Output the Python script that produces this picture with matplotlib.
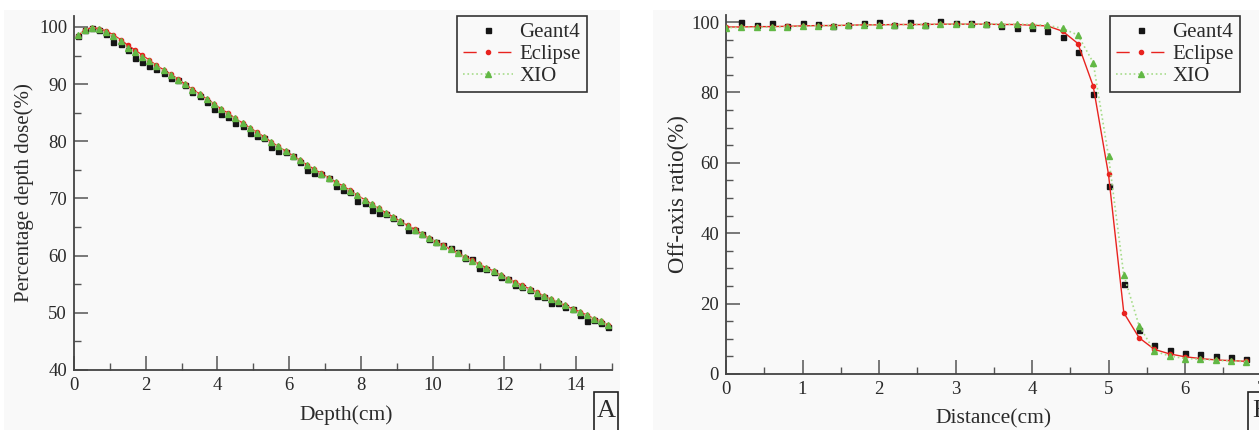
import matplotlib
matplotlib.use("Agg")
import matplotlib.pyplot as plt
from matplotlib.lines import Line2D
from matplotlib.patches import Rectangle
from matplotlib.ticker import MultipleLocator

plt.rcParams['font.family'] = ['Liberation Serif', 'DejaVu Serif']

# ---------------- Data: panel A (percentage depth dose) ----------------
depth = [0.1, 0.3, 0.5, 0.7, 0.9, 1.1, 1.3, 1.5, 1.7, 1.9,
         2.1, 2.3, 2.5, 2.7, 2.9, 3.1, 3.3, 3.5, 3.7, 3.9,
         4.1, 4.3, 4.5, 4.7, 4.9, 5.1, 5.3, 5.5, 5.7, 5.9,
         6.1, 6.3, 6.5, 6.7, 6.9, 7.1, 7.3, 7.5, 7.7, 7.9,
         8.1, 8.3, 8.5, 8.7, 8.9, 9.1, 9.3, 9.5, 9.7, 9.9,
         10.1, 10.3, 10.5, 10.7, 10.9, 11.1, 11.3, 11.5, 11.7, 11.9,
         12.1, 12.3, 12.5, 12.7, 12.9, 13.1, 13.3, 13.5, 13.7, 13.9,
         14.1, 14.3, 14.5, 14.7, 14.9]

pdd_geant4 = [98.4, 99.5, 99.9, 99.4, 98.7, 97.4, 97.0, 96.0, 94.6, 93.9,
              93.2, 92.7, 92.0, 91.0, 90.7, 89.8, 88.6, 88.0, 86.9, 85.7,
              84.8, 84.3, 83.2, 82.7, 81.5, 81.0, 80.6, 79.0, 78.3, 78.2,
              77.4, 76.3, 75.0, 74.5, 74.3, 73.5, 72.2, 71.4, 71.2, 69.6,
              69.2, 68.0, 67.5, 67.3, 66.6, 65.8, 64.5, 64.4, 63.7, 62.9,
              62.4, 61.9, 61.4, 60.7, 59.6, 59.4, 57.8, 57.7, 57.1, 56.3,
              56.0, 54.9, 54.5, 54.0, 53.0, 52.7, 51.7, 51.8, 51.0, 50.7,
              49.6, 48.5, 48.7, 48.2, 47.6]

pdd_eclipse = [98.4, 99.5, 99.9, 99.7, 99.3, 98.6, 97.8, 96.8, 96.0, 95.1,
               94.2, 93.3, 92.5, 91.7, 90.9, 90.0, 89.1, 88.3, 87.4, 86.6,
               85.7, 84.9, 84.0, 83.2, 82.4, 81.6, 80.8, 79.9, 79.1, 78.3,
               77.5, 76.7, 75.9, 75.1, 74.4, 73.6, 72.9, 72.2, 71.4, 70.6,
               69.8, 69.0, 68.3, 67.5, 66.8, 66.0, 65.3, 64.6, 63.8, 63.1,
               62.4, 61.8, 61.1, 60.5, 59.8, 59.2, 58.5, 57.9, 57.3, 56.6,
               56.0, 55.4, 54.8, 54.2, 53.6, 53.0, 52.4, 51.9, 51.3, 50.7,
               50.2, 49.6, 49.0, 48.5, 47.9]

pdd_xio = [98.6, 99.5, 99.9, 99.7, 99.2, 98.4, 97.6, 96.3, 95.7, 94.8,
           94.0, 93.2, 92.4, 91.6, 90.8, 90.0, 89.0, 88.2, 87.4, 86.5,
           85.7, 84.8, 84.0, 83.2, 82.3, 81.5, 80.7, 79.9, 79.1, 78.3,
           77.4, 76.7, 75.9, 75.1, 74.3, 73.6, 72.9, 72.2, 71.3, 70.6,
           69.7, 69.0, 68.3, 67.5, 66.8, 66.0, 65.2, 64.5, 63.8, 63.1,
           62.4, 61.7, 61.1, 60.5, 59.8, 59.1, 58.5, 57.8, 57.3, 56.6,
           56.0, 55.3, 54.7, 54.2, 53.5, 53.0, 52.4, 52.0, 51.3, 50.7,
           50.1, 49.6, 49.0, 48.5, 47.9]

# ---------------- Data: panel B (off-axis ratio) ----------------
dist = [0.0, 0.2, 0.4, 0.6, 0.8, 1.0, 1.2, 1.4, 1.6, 1.8,
        2.0, 2.2, 2.4, 2.6, 2.8, 3.0, 3.2, 3.4, 3.6, 3.8,
        4.0, 4.2, 4.4, 4.6, 4.8, 5.0, 5.2, 5.4, 5.6, 5.8,
        6.0, 6.2, 6.4, 6.6, 6.8]

dist_geant4 = [0.2, 0.4, 0.6, 0.8, 1.0, 1.2, 1.4, 1.6, 1.8,
               2.0, 2.2, 2.4, 2.6, 2.8, 3.0, 3.2, 3.4, 3.6, 3.8,
               4.0, 4.2, 4.4, 4.6, 4.8, 5.0, 5.2, 5.4, 5.6, 5.8,
               6.0, 6.2, 6.4, 6.6, 6.8]
oar_geant4 = [100.0, 99.2, 99.8, 99.0, 99.6, 99.4, 98.9, 99.2, 99.6,
              100.0, 99.2, 99.9, 99.2, 100.2, 99.6, 99.6, 99.5, 98.9, 98.4,
              98.4, 97.4, 95.8, 91.4, 79.5, 53.5, 25.5, 12.5, 8.2, 6.8,
              6.1, 5.6, 5.2, 4.9, 4.4]

oar_eclipse = [98.6, 98.6, 98.7, 98.7, 98.8, 98.9, 99.0, 99.0, 99.1, 99.2,
               99.2, 99.3, 99.3, 99.3, 99.4, 99.4, 99.4, 99.4, 99.3, 99.3,
               99.1, 98.9, 97.4, 93.9, 81.8, 56.7, 17.4, 10.3, 7.0, 5.7,
               4.9, 4.4, 4.0, 3.8, 3.6]

oar_xio = [98.4, 98.5, 98.5, 98.6, 98.7, 98.8, 98.9, 99.0, 99.1, 99.1,
           99.2, 99.2, 99.3, 99.3, 99.4, 99.4, 99.4, 99.4, 99.4, 99.4,
           99.3, 99.1, 98.2, 96.3, 88.5, 61.9, 28.1, 13.7, 6.5, 5.1,
           4.4, 4.2, 3.9, 3.7, 3.5]

series_labels = ["Geant4", "Eclipse", "XIO"]

# ---------------- Figure ----------------
W, H = 1259, 430
fig = plt.figure(figsize=(W / 100, H / 100), dpi=100, facecolor='white')


def fx(px):
    return px / W


def fy(py):
    return 1 - py / H


# light gray panel backgrounds
fig.patches.append(Rectangle((fx(4), 0), fx(620) - fx(4), fy(10), transform=fig.transFigure,
                             facecolor='#f9f9f9', edgecolor='none', zorder=-10))
fig.patches.append(Rectangle((fx(653), 0), 1 - fx(653), fy(10), transform=fig.transFigure,
                             facecolor='#f9f9f9', edgecolor='none', zorder=-10))

BLACK = '#151515'
RED = '#e8231f'
GREEN = '#62b845'
GREEN_LINE = '#a6dc8a'
SPINE = '#444444'
TXT = '#2a2a2a'

axA = fig.add_axes([fx(74), fy(370), fx(612) - fx(74), fy(15.5) - fy(370)])
axB = fig.add_axes([fx(726), fy(374), fx(726 + 76.5 * 7.5) - fx(726), fy(15) - fy(374)])


def style(ax):
    ax.set_facecolor('none')
    for s in ['top', 'right']:
        ax.spines[s].set_visible(False)
    for s in ['left', 'bottom']:
        ax.spines[s].set_color(SPINE)
        ax.spines[s].set_linewidth(1.3)
    ax.tick_params(which='major', direction='in', length=10, width=1.1, color='#555555',
                   labelsize=13.5, labelcolor=TXT, pad=5)
    ax.tick_params(which='minor', direction='in', length=5, width=1.0, color='#555555')


# Panel A
axA.plot(depth, pdd_eclipse, color=RED, lw=0.9, marker='o', ms=3, mec=RED, mfc=RED, zorder=3)
axA.plot(depth, pdd_xio, color=GREEN_LINE, lw=1.0, ls=':', marker='^', ms=4.5, mec=GREEN, mfc=GREEN, zorder=4)
axA.plot(depth, pdd_geant4, ls='none', marker='s', ms=3.6, color=BLACK, zorder=2)
axA.set_xlim(0, 15)
axA.set_ylim(40, 102)
axA.xaxis.set_major_locator(MultipleLocator(2))
axA.xaxis.set_minor_locator(MultipleLocator(1))
axA.yaxis.set_major_locator(MultipleLocator(10))
axA.yaxis.set_minor_locator(MultipleLocator(5))
style(axA)
axA.set_yticks([40, 50, 60, 70, 80, 90, 100])
axA.set_xlabel("Depth(cm)", fontsize=15.5, color=TXT, va='center')
axA.set_ylabel("Percentage depth dose(%)", fontsize=15, color=TXT)
axA.xaxis.set_label_coords((346 - 74) / (612 - 74), (370 - 415) / 354.5)
axA.yaxis.set_label_coords(-0.074, 0.5)

# Panel B
axB.plot(dist, oar_eclipse, color=RED, lw=1.0, marker='o', ms=3, mec=RED, mfc=RED, zorder=3)
axB.plot(dist, oar_xio, color=GREEN_LINE, lw=1.2, ls=':', marker='^', ms=4.5, mec=GREEN, mfc=GREEN, zorder=4)
axB.plot(dist_geant4, oar_geant4, ls='none', marker='s', ms=3.6, color=BLACK, zorder=2)
axB.set_xlim(0, 7.5)
axB.set_ylim(0, 102)
axB.xaxis.set_major_locator(MultipleLocator(1))
axB.xaxis.set_minor_locator(MultipleLocator(0.5))
axB.yaxis.set_major_locator(MultipleLocator(20))
axB.yaxis.set_minor_locator(MultipleLocator(5))
style(axB)
axB.set_xlabel("Distance(cm)", fontsize=15.5, color=TXT, va='center')
axB.set_ylabel("Off-axis ratio(%)", fontsize=16.5, color=TXT)
axB.xaxis.set_label_coords((994 - 726) / (76.5 * 7.5), (374 - 419) / 359.0)
axB.yaxis.set_label_coords(-0.064, 0.5)


def legend_handles():
    h_g = Line2D([], [], ls='none', marker='s', ms=3.6, color=BLACK)
    h_e_line = Line2D([], [], color=RED, lw=1.0, ls=(0, (9.5, 15.5)))
    h_e_mark = Line2D([], [], ls='none', marker='o', ms=3, color=RED)
    h_x_line = Line2D([], [], color=GREEN_LINE, lw=1.2, ls=':')
    h_x_mark = Line2D([], [], ls='none', marker='^', ms=4.5, color=GREEN)
    return [h_g, (h_e_line, h_e_mark), (h_x_line, h_x_mark)]


for ax, (x0, y0) in [(axA, (457, 16)), (axB, (1110, 16))]:
    bb = ax.get_position()
    ax_x = (fx(x0) - bb.x0) / bb.width
    ax_y = (fy(y0) - bb.y0) / bb.height
    leg = ax.legend(legend_handles(), series_labels, loc='upper left',
                    bbox_to_anchor=(ax_x, ax_y), borderaxespad=0,
                    fontsize=15, frameon=True, fancybox=False,
                    handlelength=2.4, handletextpad=0.3, labelspacing=0.12,
                    borderpad=0.3, framealpha=1)
    leg.get_frame().set_edgecolor('#333333')
    leg.get_frame().set_linewidth(1.2)
    leg.get_frame().set_facecolor('#f9f9f9')
    for t in leg.get_texts():
        t.set_color(TXT)

# Panel letters in boxes
for (bx, letter) in [(594, "A"), (1248, "B")]:
    fig.patches.append(Rectangle((fx(bx), fy(445)), fx(24), fy(392) - fy(445),
                                 transform=fig.transFigure, facecolor='none',
                                 edgecolor='#222222', lw=1.2))
    fig.text(fx(bx + 12.5), fy(411), letter, ha='center', va='center', fontsize=19, color=TXT)

fig.savefig("out.png", dpi=100, facecolor='white')
